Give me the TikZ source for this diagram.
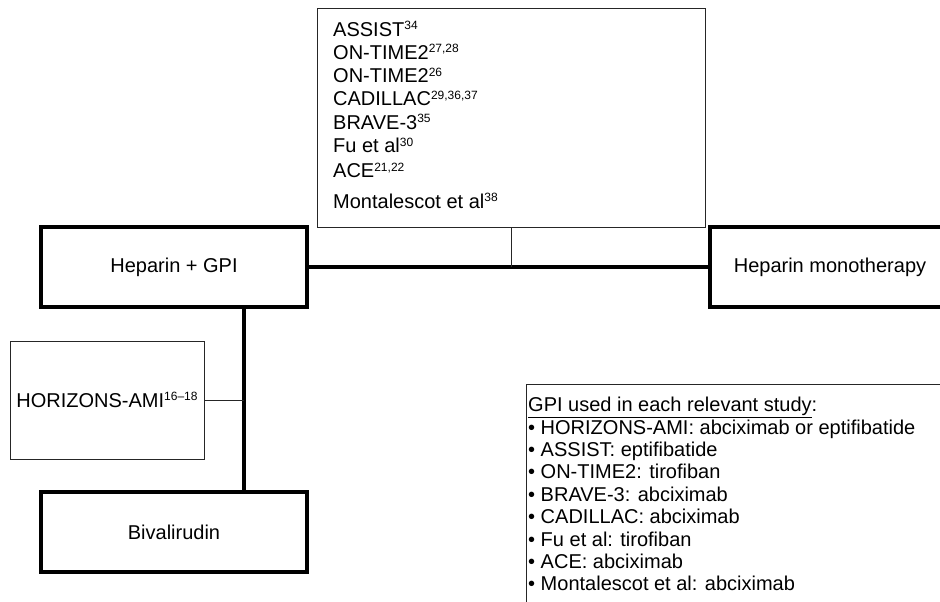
\documentclass[tikz,border=0pt]{standalone}
\usepackage{fontspec}
\setmainfont{Liberation Sans}
\usetikzlibrary{positioning}

\newcommand{\refs}[1]{\raisebox{6.5pt}{\fontsize{12}{12}\selectfont #1}}

\begin{document}
\begin{tikzpicture}[
    x=1pt, y=-1pt,
    thickbox/.style={draw=black, line width=4pt, minimum width=266pt, minimum height=80pt, inner sep=0pt, font=\fontsize{20}{23}\selectfont},
    thinbox/.style={draw=black!85, line width=1pt, inner sep=0pt},
    thickline/.style={line width=4pt},
    thinline/.style={draw=black!85, line width=1pt},
    listtext/.style={inner sep=0pt, align=left, anchor=north west}
]
    \clip (0,0) rectangle (940,602);

    % Treatment boxes
    \node[thickbox] (hepgpi) at (174,267) {Heparin + GPI};
    \node[thickbox, minimum width=240pt] (hepmono) at (830,267) {Heparin monotherapy};
    \node[thickbox] (bival) at (174,532) {Bivalirudin};

    % Trial boxes
    \node[thinbox, minimum width=388pt, minimum height=218pt] (trials) at (511,118) {};
    \node[listtext, font=\fontsize{20}{23.3}\selectfont] (triallist) at (333,21) {%
        ASSIST\refs{34}\\
        ON-TIME2\refs{27,28}\\
        ON-TIME2\refs{26}\\
        CADILLAC\refs{29,36,37}\\
        BRAVE-3\refs{35}\\
        Fu et al\refs{30}\\[2pt]
        ACE\refs{21,22}\\[7pt]
        Montalescot et al\refs{38}};
    \node[thinbox, minimum width=194pt, minimum height=118pt, font=\fontsize{20}{23}\selectfont] (horizons) at (107,400) {HORIZONS-AMI\refs{16--18}};

    % Note on GPI
    \node[thinbox, anchor=north west, minimum width=440pt, minimum height=240pt] (notebox) at (526,384) {};
    \node[listtext, font=\fontsize{20}{22.4}\selectfont] (gpinote) at (528,397) {%
        \underline{GPI used in each relevant study}:\\
        • HORIZONS-AMI: abciximab or eptifibatide\\
        • ASSIST: eptifibatide\\
        • ON-TIME2: tirofiban\\
        • BRAVE-3: abciximab\\
        • CADILLAC: abciximab\\
        • Fu et al: tirofiban\\
        • ACE: abciximab\\
        • Montalescot et al: abciximab};

    % Connectors
    \coordinate (trunk) at (244,0);
    \draw[thickline] (hepgpi.east) -- (hepmono.west);
    \draw[thinline] (trials.south) -- (trials.south |- hepgpi.east);
    \draw[thickline] (hepgpi.south -| trunk) -- (bival.north -| trunk);
    \draw[thinline] (horizons.east) -- (horizons.east -| trunk);
\end{tikzpicture}
\end{document}
